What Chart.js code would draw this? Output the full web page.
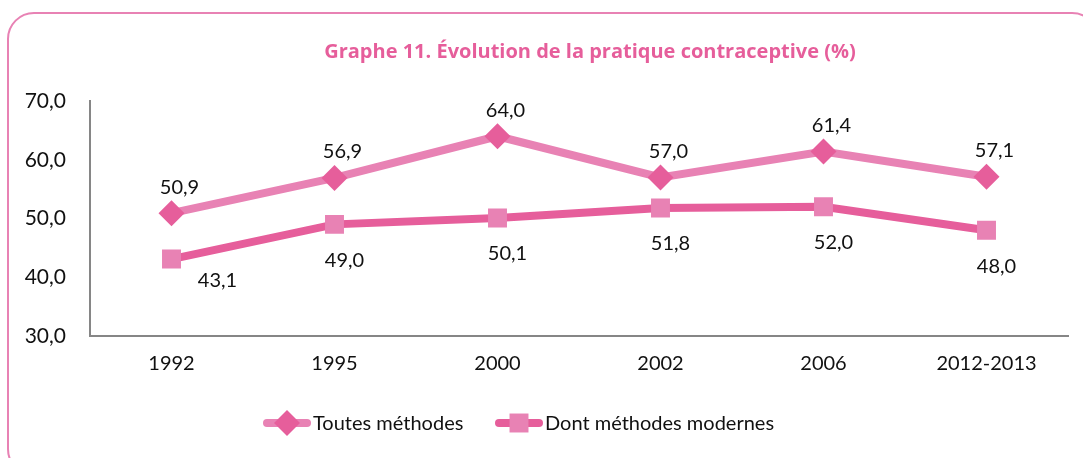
<!DOCTYPE html>
<html>
<head>
<meta charset="utf-8">
<script src="https://cdn.jsdelivr.net/npm/chart.js@4/dist/chart.umd.min.js"></script>
<style>
html,body{margin:0;padding:0;background:#fff;}
#wrap{width:1083px;height:458px;position:relative;}
</style>
</head>
<body>
<div id="wrap"><canvas id="c" width="1083" height="458"></canvas></div>
<script>
const categories = ['1992', '1995', '2000', '2002', '2006', '2012-2013'];
const toutesMethodes = [50.9, 56.9, 64.0, 57.0, 61.4, 57.1];
const methodesModernes = [43.1, 49.0, 50.1, 51.8, 52.0, 48.0];
const seriesNames = ['Toutes méthodes', 'Dont méthodes modernes'];
const chartTitle = 'Graphe 11. Évolution de la pratique contraceptive (%)';
const yMin = 30, yMax = 70, yStep = 10;

const LIGHT = '#E882B4';
const DARK = '#E65E9B';
const FONT = 'Lato, "Open Sans", sans-serif';

const fmt = v => v.toFixed(1).replace('.', ',');

const framePlugin = {
  id: 'frame',
  beforeDraw(chart) {
    const ctx = chart.ctx;
    ctx.save();
    ctx.fillStyle = '#fff';
    ctx.fillRect(0, 0, chart.width, chart.height);
    ctx.strokeStyle = LIGHT;
    ctx.lineWidth = 2;
    ctx.beginPath();
    ctx.roundRect(8, 13, 1090, 462, 26);
    ctx.stroke();
    // title
    ctx.fillStyle = DARK;
    ctx.font = 'bold 20px "Open Sans", sans-serif';
    ctx.textAlign = 'center';
    ctx.textBaseline = 'middle';
    ctx.fillText(chartTitle, 590, 52);
    ctx.restore();
  },
  afterDatasetsDraw(chart) {
    const ctx = chart.ctx;
    ctx.save();
    ctx.font = '20px ' + FONT;
    ctx.fillStyle = '#111';
    ctx.textAlign = 'center';
    ctx.textBaseline = 'middle';
    const offs = [{dx: 8, dy: -26}, {dx: 10, dy: 36}];
    chart.data.datasets.forEach((ds, i) => {
      const meta = chart.getDatasetMeta(i);
      meta.data.forEach((pt, j) => {
        let dx = offs[i].dx, dy = offs[i].dy;
        if (i === 1 && j === 0) { dx = 46; dy = 22; }
        ctx.fillText(fmt(ds.data[j]), pt.x + dx, pt.y + dy);
      });
    });
    // legend
    const items = [{x0: 263, x1: 311}, {x0: 495, x1: 543}];
    const ly = 423;
    chart.data.datasets.forEach((ds, i) => {
      const it = items[i];
      ctx.strokeStyle = ds.borderColor;
      ctx.lineWidth = 8;
      ctx.lineCap = 'round';
      ctx.beginPath();
      ctx.moveTo(it.x0 + 4, ly);
      ctx.lineTo(it.x1 - 4, ly);
      ctx.stroke();
      ctx.fillStyle = ds.pointBackgroundColor;
      Chart.helpers.drawPoint(ctx, {
        pointStyle: ds.pointStyle,
        radius: ds.pointRadius,
        borderWidth: 0
      }, (it.x0 + it.x1) / 2, ly);
      ctx.fillStyle = '#111';
      ctx.textAlign = 'left';
      ctx.fillText(ds.label, it.x1 + 2, ly + 1);
    });
    ctx.restore();
  }
};

new Chart(document.getElementById('c'), {
  type: 'line',
  data: {
    labels: categories,
    datasets: [
      {
        label: seriesNames[0],
        data: toutesMethodes,
        borderColor: LIGHT,
        backgroundColor: LIGHT,
        borderWidth: 8,
        pointStyle: 'rectRot',
        pointRadius: 13,
        pointHoverRadius: 13,
        pointBackgroundColor: DARK,
        pointBorderColor: DARK,
        pointBorderWidth: 0,
        tension: 0
      },
      {
        label: seriesNames[1],
        data: methodesModernes,
        borderColor: DARK,
        backgroundColor: DARK,
        borderWidth: 8,
        pointStyle: 'rect',
        pointRadius: 13.4,
        pointHoverRadius: 13.4,
        pointBackgroundColor: LIGHT,
        pointBorderColor: LIGHT,
        pointBorderWidth: 0,
        tension: 0
      }
    ]
  },
  options: {
    responsive: false,
    animation: false,
    events: [],
    layout: { padding: { left: 10, right: 15, top: 101, bottom: 82 } },
    plugins: { legend: { display: false }, title: { display: false }, tooltip: { enabled: false } },
    scales: {
      x: {
        offset: true,
        grid: { display: false, drawTicks: false },
        border: { display: true, color: '#868686', width: 2 },
        ticks: { color: '#111', font: { family: FONT, size: 20 }, padding: 16, maxRotation: 0, autoSkip: false },
        afterFit(axis) { axis.height = 40; }
      },
      y: {
        min: yMin, max: yMax,
        grid: { display: false, drawTicks: false },
        border: { display: true, color: '#868686', width: 2 },
        ticks: { stepSize: yStep, color: '#111', font: { family: FONT, size: 21 }, padding: 24, callback: v => fmt(v) },
        afterFit(axis) { axis.width = 80; }
      }
    }
  },
  plugins: [framePlugin]
});
</script>
</body>
</html>
